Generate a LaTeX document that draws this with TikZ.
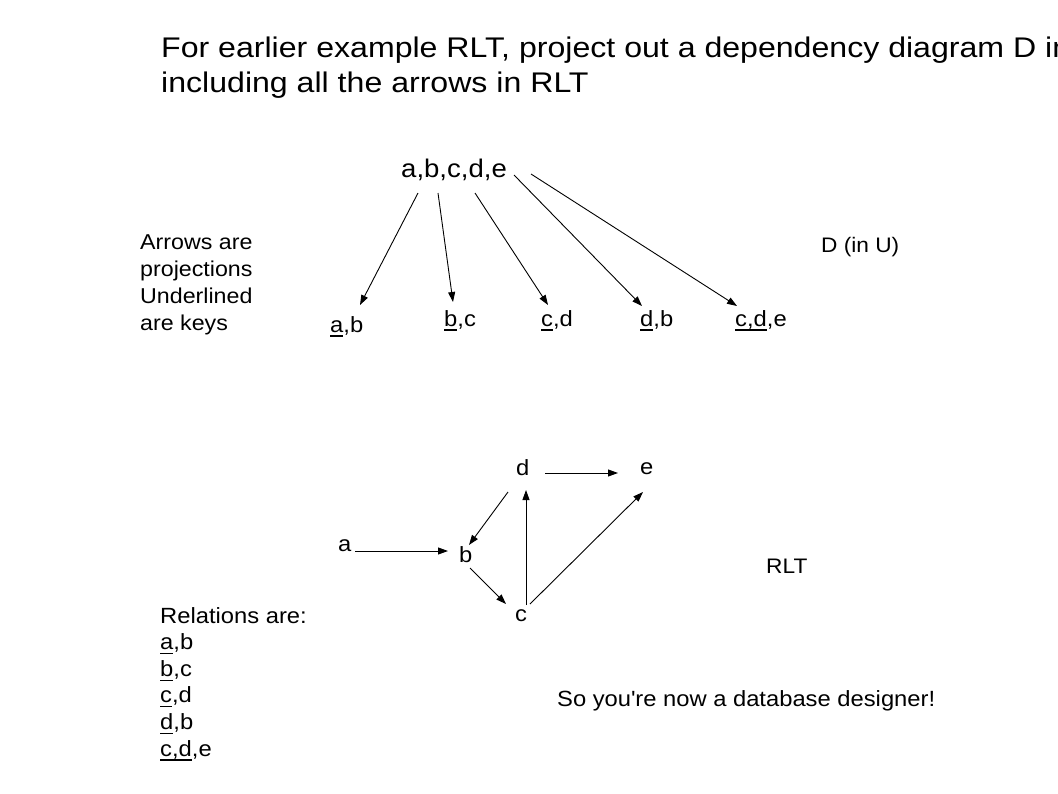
\documentclass[tikz,border=0pt]{standalone}
\usepackage{fontspec}
\setmainfont[FakeStretch=1.08]{Liberation Sans}
\newfontfamily\headfont[FakeStretch=1.13]{Liberation Sans}
\usetikzlibrary{arrows.meta,calc}
\newcommand\keyattr[1]{\setbox0\hbox{#1}\rlap{\rule[-4.5pt]{\wd0}{1.2pt}}\box0}
\tikzset{
    txt/.style={anchor=base west,inner sep=0pt,font=\fontsize{22}{26}\selectfont},
    proj/.style={-{Triangle[length=10pt,width=7pt]},line width=0.9pt}
}
\begin{document}
\begin{tikzpicture}[x=1pt,y=-1pt]
        \useasboundingbox (0,0) rectangle (1058,793);
        %% Title
        \node[txt,font=\headfont\fontsize{28.4}{35}\selectfont] (head1) at (161,57) {For earlier example RLT, project out a dependency diagram D in};
        \node[txt,font=\headfont\fontsize{28.4}{35}\selectfont] (head2) at (161,92) {including all the arrows in RLT};
        %% Diagram D
        \node[txt,font=\fontsize{25.5}{28}\selectfont] (all) at (401,177) {a,b,c,d,e};
        \foreach \n/\x/\y/\lab in {ab/330/332/{\keyattr{a},b},bc/444/326/{\keyattr{b},c},cd/541/326/{\keyattr{c},d},db/640/326/{\keyattr{d},b},cde/735/326/{\keyattr{c,d},e}}
            \node[txt] (\n) at (\x,\y) {\lab};
        \foreach \n/\sx/\sy/\ex/\ey in {ab/17/16/30/-27,bc/37/16/9/-24,cd/74/16/7/-21,db/113/-2/2/-20,cde/130/-3/2/-20}
            \draw[proj] ($(all.base west)+(\sx,\sy)$) -- ($(\n.base west)+(\ex,\ey)$);
        \foreach \lab [count=\i] in {Arrows are,projections,Underlined,are keys}
            \node[txt,font=\fontsize{21.5}{27}\selectfont] (note\i) at (140,{249+27.3*(\i-1)}) {\lab};
        \node[txt,font=\fontsize{21}{27}\selectfont] (dinu) at (821,252) {D (in U)};
        %% Graph RLT
        \foreach \n/\x/\y in {d/516/475,e/640/474,a/338/551,b/459/562,c/515/621}
            \node[txt] (\n) at (\x,\y) {\n};
        \foreach \s/\sx/\sy/\dst/\tx/\ty in {d/29/-2/e/-22/-1,d/-8/17/b/10/-17,a/17/0/b/-11/-11,b/11/6/c/-9/-17,c/11/-16/d/10/15,c/15/-17/e/3/18}
            \draw[proj] ($(\s.base west)+(\sx,\sy)$) -- ($(\dst.base west)+(\tx,\ty)$);
        \node[txt,font=\fontsize{21}{27}\selectfont] (rlt) at (766,573) {RLT};
        %% Relations
        \foreach \lab [count=\i] in {Relations are:,{\keyattr{a},b},{\keyattr{b},c},{\keyattr{c},d},{\keyattr{d},b},{\keyattr{c,d},e}}
            \node[txt,font=\fontsize{22}{26}\selectfont] (rel\i) at (160,{623+26.6*(\i-1)}) {\lab};
        \node[txt] (fin) at (557,706) {So you\textquotesingle re now a database designer!};
    \end{tikzpicture}
\end{document}
